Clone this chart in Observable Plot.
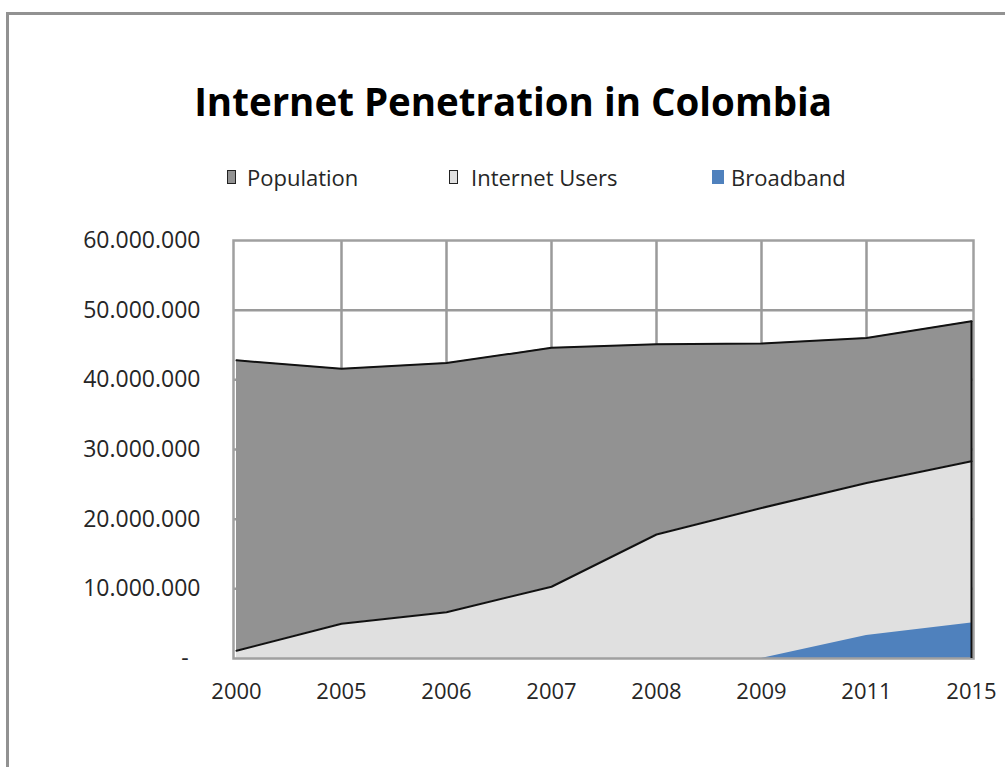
<!DOCTYPE html>
<html>
<head>
<meta charset="utf-8">
<script src="https://cdn.jsdelivr.net/npm/d3@7"></script>
<script src="https://cdn.jsdelivr.net/npm/@observablehq/plot@0.6"></script>
<style>
  html, body { margin: 0; padding: 0; background: #fff; }
  #page { position: relative; width: 1005px; height: 767px; overflow: hidden; font-family: "Open Sans", sans-serif; }
  #sheet { position: absolute; left: 6px; top: 12px; width: 1100px; height: 900px;
           border-top: 3px solid #929292; border-left: 3px solid #929292; box-sizing: border-box; }
  #title { position: absolute; left: 0; width: 1005px; top: 81px; text-align: center; white-space: nowrap;
           font-size: 39px; line-height: 39px; font-weight: 700; color: #000; }
  #title span { display: inline-block; transform-origin: 50% 50%; }
  #legend { position: absolute; top: 0; left: 0; }
  .key { position: absolute; top: 170px; box-sizing: border-box; }
  .lbl { position: absolute; top: 164px; font-size: 22px; line-height: 26px; color: #262626; white-space: nowrap; }
  #chart { position: absolute; left: 0; top: 200px; }
</style>
</head>
<body>
<div id="page">
  <div id="sheet"></div>
  <div id="title"><span>Internet Penetration in Colombia</span></div>
  <div id="legend"></div>
  <div id="chart"></div>
</div>
<script>
// Categories and series (people)
const years = ["2000", "2005", "2006", "2007", "2008", "2009", "2011", "2015"];
const population = [42.8e6, 41.6e6, 42.4e6, 44.6e6, 45.1e6, 45.2e6, 46.0e6, 48.4e6];
const internetUsers = [1.1e6, 5.0e6, 6.65e6, 10.3e6, 17.8e6, 21.6e6, 25.2e6, 28.3e6];
const broadband = [0, 0, 0, 0, 0, 0, 3.3e6, 5.1e6];

// Value-axis ticks
const yTicks = [0, 10e6, 20e6, 30e6, 40e6, 50e6, 60e6];

// Legend entries
const seriesNames = ["Population", "Internet Users", "Broadband"];
const seriesColors = ["#929292", "#e0e0e0", "#4f81bd"];

const rows = years.map((year, i) => ({
  year,
  population: population[i],
  users: internetUsers[i],
  broadband: broadband[i]
}));

// Thousands separated with dots, zero shown as a dash
const fmtInt = d3.format(",");
const yFormat = d => d === 0 ? "-\u00a0\u00a0" : fmtInt(d).replace(/,/g, ".");

const chart = Plot.plot({
  width: 1005,
  height: 567,
  marginTop: 40,
  marginBottom: 109,
  marginLeft: 233,
  marginRight: 32,
  style: { fontFamily: "Open Sans, sans-serif", fontSize: "23px", color: "#262626", background: "transparent", overflow: "visible" },
  x: { type: "point", domain: years, padding: 0 },
  y: { domain: [0, 60e6] },
  marks: [
    Plot.ruleY(yTicks.slice(1, -1), { stroke: "#9a9a9a", strokeWidth: 2.5 }),
    Plot.ruleX(years.slice(1, -1), { stroke: "#9a9a9a", strokeWidth: 2.5 }),
    Plot.areaY(rows, { x: "year", y1: 0, y2: "population", fill: seriesColors[0] }),
    Plot.areaY(rows, { x: "year", y1: 0, y2: "users", fill: seriesColors[1] }),
    Plot.areaY(rows, { x: "year", y1: 0, y2: "broadband", fill: seriesColors[2] }),
    Plot.frame({ stroke: "#a0a0a0", strokeWidth: 2.5 }),
    Plot.line(rows, { x: "year", y: "population", stroke: "#111", strokeWidth: 2 }),
    Plot.line(rows, { x: "year", y: "users", stroke: "#111", strokeWidth: 2 }),
    Plot.ruleX(rows.slice(-1), { x: "year", y1: 0, y2: "population", stroke: "#111", strokeWidth: 2 }),
    Plot.axisY({ ticks: yTicks, tickFormat: yFormat, tickSize: 0, tickPadding: 33, label: null }),
    Plot.axisX({ tickSize: 0, tickPadding: 25, label: null, fontSize: 22 })
  ]
});
document.getElementById("chart").appendChild(chart);

// Legend: outlined keys for the two grey series, plain key for broadband
const legend = document.getElementById("legend");
const keyX = [227, 449, 712];
const keyW = [9, 9, 12];
const textX = [247, 471, 731];
seriesNames.forEach((name, i) => {
  const k = document.createElement("div");
  k.className = "key";
  k.style.left = keyX[i] + "px";
  k.style.width = keyW[i] + "px";
  k.style.height = "14px";
  k.style.background = seriesColors[i];
  if (i < 2) k.style.border = "1.5px solid #222";
  legend.appendChild(k);
  const t = document.createElement("div");
  t.className = "lbl";
  t.style.left = textX[i] + "px";
  t.textContent = name;
  legend.appendChild(t);
});

// Fit the title to its width
const span = document.querySelector("#title span");
const w = span.getBoundingClientRect().width;
span.style.transform = `scaleX(${638 / w})`;
document.querySelector("#title").style.left = "11px";
</script>
</body>
</html>
